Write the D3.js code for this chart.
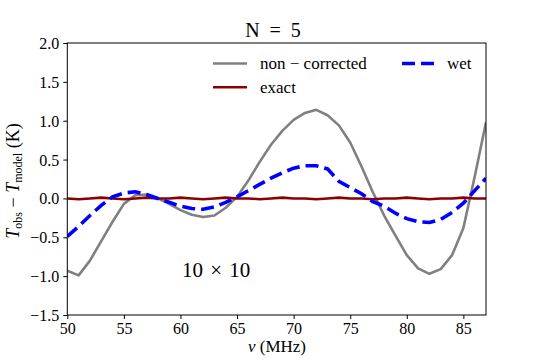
<!DOCTYPE html>
<html><head><meta charset="utf-8">
<script src="https://cdn.jsdelivr.net/npm/d3@7"></script>
<style>body{margin:0;background:#fff}</style>
</head><body>
<svg id="c" width="540" height="360"></svg>
<script>
const freqs = [50,51,52,53,54,55,56,57,58,59,60,61,62,63,64,65,66,67,68,69,70,71,72,73,74,75,76,77,78,79,80,81,82,83,84,85,86,87];
const nonCorrected = [-0.93,-0.99,-0.80,-0.55,-0.30,-0.07,0.04,0.05,0.00,-0.07,-0.15,-0.21,-0.24,-0.22,-0.12,0.02,0.23,0.47,0.69,0.87,1.01,1.10,1.14,1.07,0.94,0.72,0.41,0.08,-0.22,-0.48,-0.73,-0.90,-0.97,-0.91,-0.73,-0.38,0.28,0.98];
const exact = [0.00,-0.01,0.00,0.01,0.00,-0.01,0.00,0.01,0.00,0.00,0.01,0.00,-0.01,0.00,0.01,0.00,0.00,-0.01,0.00,0.01,0.00,0.00,-0.01,0.00,0.01,0.00,0.00,-0.01,0.00,0.00,0.01,0.00,-0.01,0.00,0.00,0.01,0.00,0.00];
const wet = [-0.49,-0.36,-0.22,-0.09,0.02,0.07,0.085,0.05,0.00,-0.05,-0.10,-0.13,-0.14,-0.11,-0.05,0.02,0.10,0.18,0.26,0.33,0.39,0.42,0.42,0.38,0.22,0.14,0.06,-0.04,-0.10,-0.19,-0.26,-0.30,-0.31,-0.27,-0.18,-0.06,0.10,0.26];
const xTicks = [50,55,60,65,70,75,80,85];
const yTicks = [-1.5,-1.0,-0.5,0.0,0.5,1.0,1.5,2.0];

const FONT = "Liberation Serif";
const svg = d3.select("#c");
const L = 67.3, R = 486, T = 43, B = 315;
const x = d3.scaleLinear().domain([50,87]).range([L,R]);
const y = d3.scaleLinear().domain([-1.5,2.0]).range([B,T]);

svg.append("defs").append("clipPath").attr("id","clip")
  .append("rect").attr("x",L).attr("y",T).attr("width",R-L).attr("height",B-T);

const line = vals => d3.line().x((d,i)=>x(freqs[i])).y(d=>y(d))(vals);
const g = svg.append("g").attr("clip-path","url(#clip)");
g.append("path").attr("d",line(nonCorrected)).attr("fill","none").attr("stroke","#808080").attr("stroke-width",2.6).attr("stroke-linejoin","round");
g.append("path").attr("d",line(exact)).attr("fill","none").attr("stroke","#8b0000").attr("stroke-width",2.6);
g.append("path").attr("d",line(wet)).attr("fill","none").attr("stroke","#0000ff").attr("stroke-width",3.6).attr("stroke-dasharray","13,6");

svg.append("rect").attr("x",L).attr("y",T).attr("width",R-L).attr("height",B-T)
  .attr("fill","none").attr("stroke","#000").attr("stroke-width",1);

const fmt = d3.format(".1f");
const xa = svg.append("g").attr("transform",`translate(0,${B})`)
  .call(d3.axisBottom(x).tickValues(xTicks).tickSize(4).tickPadding(4).tickFormat(d3.format("d")));
const ya = svg.append("g").attr("transform",`translate(${L},0)`)
  .call(d3.axisLeft(y).tickValues(yTicks).tickSize(4).tickPadding(4).tickFormat(fmt));
[xa,ya].forEach(a=>{
  a.attr("font-family",FONT).attr("font-size",16);
  a.select(".domain").remove();
  a.selectAll("line").attr("stroke","#000").attr("stroke-width",1);
  a.selectAll("text").attr("fill","#000");
});
ya.selectAll("text").attr("dy","0.34em");

svg.append("text").attr("x",273).attr("y",37).attr("text-anchor","middle")
  .attr("font-size",20).attr("word-spacing","5px").text("N = 5");

const xl = svg.append("text").attr("x",277).attr("y",352).attr("text-anchor","middle").attr("font-size",17);
xl.append("tspan").attr("font-style","italic").text("ν");
xl.append("tspan").text(" (MHz)");

const yl = svg.append("text").attr("transform","translate(19,181) rotate(-90)").attr("text-anchor","middle").attr("font-size",18);
yl.append("tspan").attr("font-style","italic").text("T");
yl.append("tspan").attr("font-size",12).attr("dy",3).text("obs");
yl.append("tspan").attr("dy",-3).text(" − ");
yl.append("tspan").attr("font-style","italic").text("T");
yl.append("tspan").attr("font-size",12).attr("dy",3).text("model");
yl.append("tspan").attr("dy",-3).text(" (K)");

svg.append("text").attr("x",182).attr("y",277).attr("font-size",21).attr("word-spacing","2px").text("10 × 10");

const leg = [
  {label:"non − corrected", color:"#808080", w:2.6, dash:null, x1:213, ty:63.5},
  {label:"exact", color:"#8b0000", w:2.6, dash:null, x1:213, ty:87.3},
  {label:"wet", color:"#0000ff", w:3.6, dash:"13,6", x1:402, ty:63.5}
];
leg.forEach(d=>{
  svg.append("line").attr("x1",d.x1).attr("x2",d.x1+34).attr("y1",d.ty).attr("y2",d.ty)
    .attr("stroke",d.color).attr("stroke-width",d.w).attr("stroke-dasharray",d.dash);
  svg.append("text").attr("x",d.x1+(d.label==="wet"?45:47)).attr("y",d.ty+5.5).attr("font-size",17).text(d.label);
});
svg.selectAll("text").attr("font-family",FONT);
</script>
</body></html>
